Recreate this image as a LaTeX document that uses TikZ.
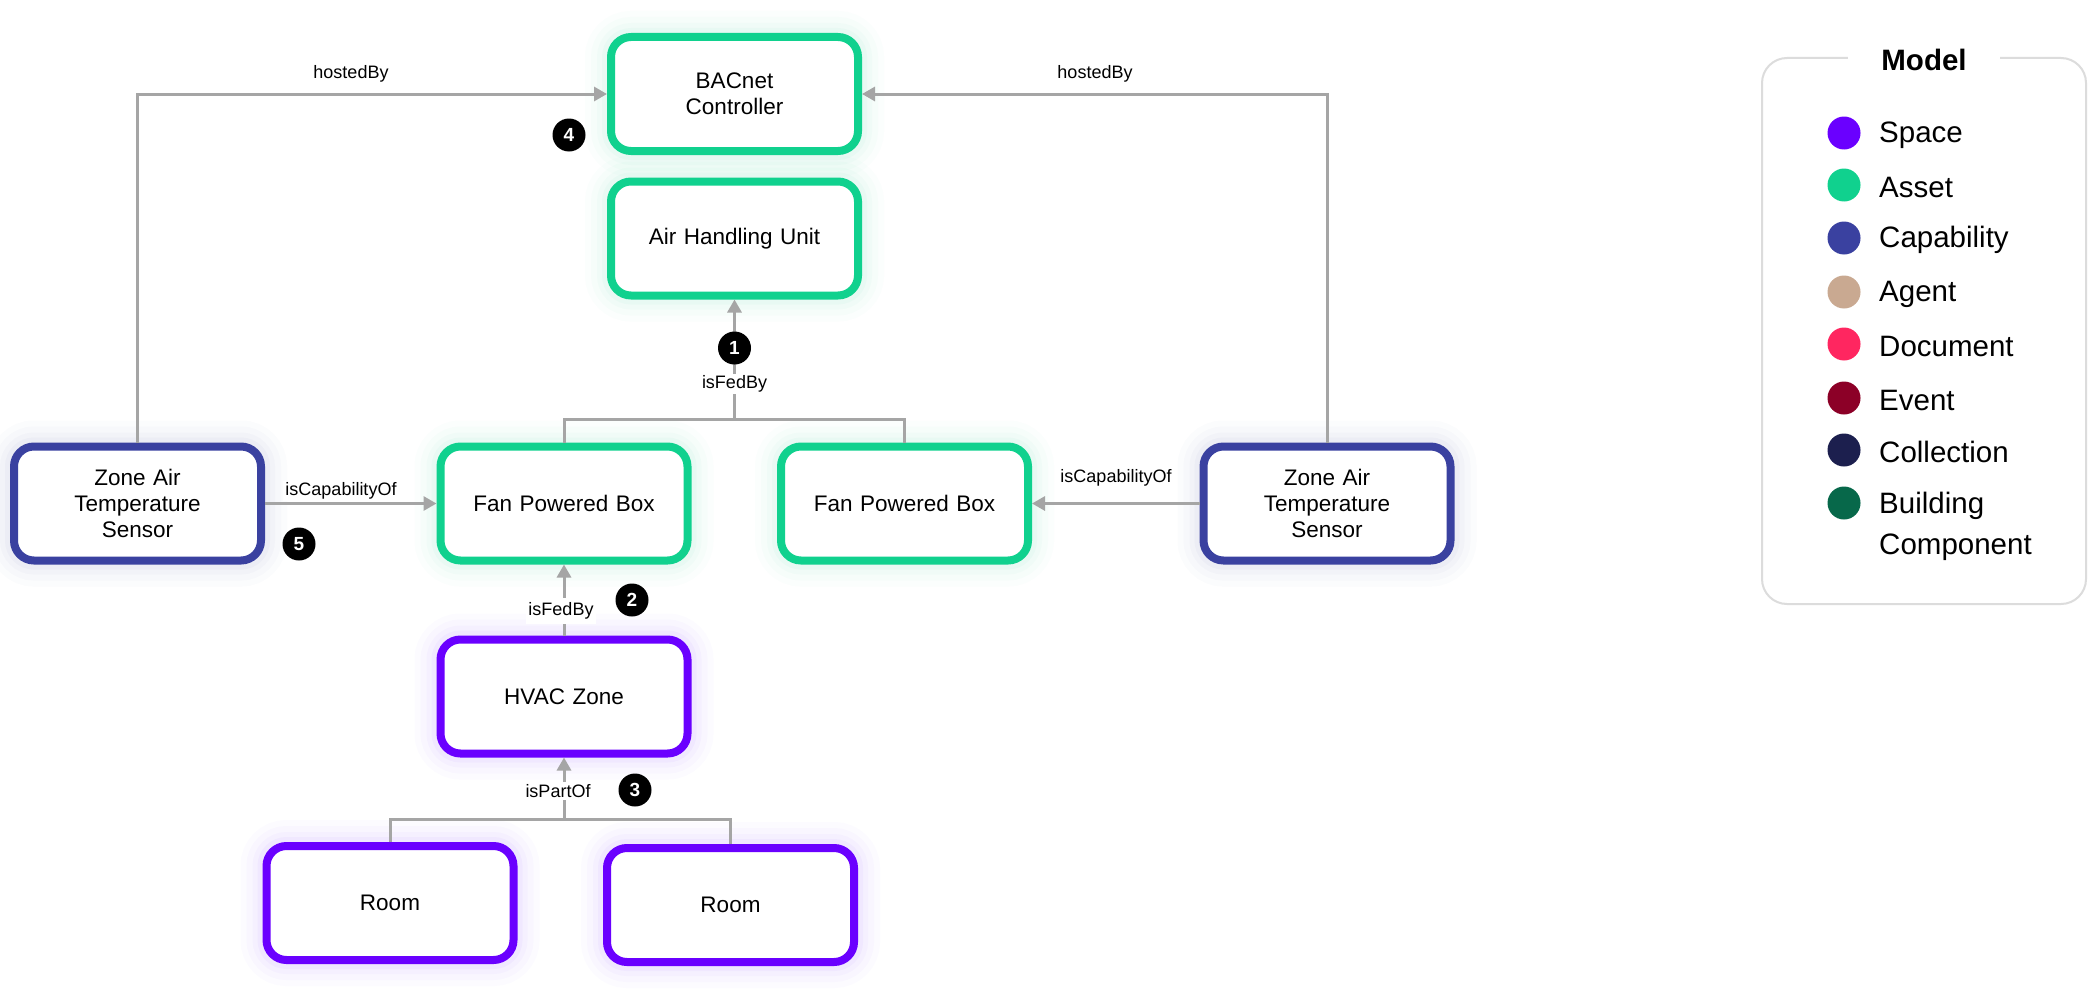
\documentclass[tikz,border=0pt]{standalone}
\usepackage{fontspec}
\setmainfont{Liberation Sans}
\usetikzlibrary{arrows.meta}

% entity colours
\definecolor{space}{HTML}{6A00FF}
\definecolor{asset}{HTML}{10D18E}
\definecolor{capability}{HTML}{3A41A0}
\definecolor{agent}{HTML}{C9A991}
\definecolor{document}{HTML}{FF2660}
\definecolor{event}{HTML}{8C0027}
\definecolor{collection}{HTML}{1C1F4E}
\definecolor{buildingcomp}{HTML}{07684A}
\definecolor{wiregray}{HTML}{A5A5A5}
\definecolor{framegray}{HTML}{DCDCDC}

\newcommand\nodetextfont{\fontsize{22.5}{26}\selectfont}
\newcommand\linktextfont{\fontsize{18}{20}\selectfont}
\newcommand\badgetextfont{\fontsize{19}{20}\selectfont\bfseries}
\newcommand\legendtextfont{\fontsize{29.5}{41}\selectfont}

\tikzset{
  halo/.style={
    preaction={draw=#1, line width=52pt, opacity=0.015},
    preaction={draw=#1, line width=40pt, opacity=0.02},
    preaction={draw=#1, line width=28pt, opacity=0.025},
    preaction={draw=#1, line width=18pt, opacity=0.03}},
  box/.style={draw=#1, line width=8pt, rounded corners=20pt, fill=white,
    minimum width=247pt, minimum height=114pt, text width=230pt,
    align=center, font=\nodetextfont, halo=#1},
  wire/.style={draw=wiregray, line width=3pt},
  link/.style={wire, -{Triangle[length=13pt,width=14pt]}},
  lbl/.style={font=\linktextfont, fill=white, inner sep=2pt},
  badge/.style={circle, fill=black, minimum size=33pt, inner sep=0pt,
    text=white, font=\badgetextfont},
  dot/.style={circle, fill=#1, minimum size=33pt, inner sep=0pt},
  legitem/.style={anchor=west, font=\legendtextfont, align=left, inner sep=0pt},
}

\begin{document}
\begin{tikzpicture}[x=1pt, y=-1pt]
\useasboundingbox[fill=white] (0,0) rectangle (2100,990);

% ---- entities ----
\node[box=asset] (bac) at (734.5,94) {BACnet\\Controller};
\node[box=asset] (ahu) at (734.5,238.5) {Air Handling Unit};
\node[box=asset] (fpbL) at (564,503.5) {Fan Powered Box};
\node[box=asset] (fpbR) at (904.5,503.5) {Fan Powered Box};
\node[box=capability] (senL) at (137.5,503.5) {Zone Air\\Temperature\\Sensor};
\node[box=capability] (senR) at (1327,503.5) {Zone Air\\Temperature\\Sensor};
\node[box=space] (hvac) at (564,696.5) {HVAC Zone};
\node[box=space] (roomL) at (390,903) {Room};
\node[box=space] (roomR) at (730.5,905) {Room};

% ---- hostedBy ----
\draw[link] (senL.north) |- (bac.west);
\draw[link] (senR.north) |- (bac.east);
\node[lbl] (hbL) at (351,74) {hostedBy};
\node[lbl] (hbR) at (1095,74) {hostedBy};
\node[badge] (b4) at (569,135) {4};

% ---- fan powered boxes fed by the AHU ----
\coordinate (j1) at (734.5,419);
\draw[wire] (fpbL.north) |- (j1) -| (fpbR.north);
\draw[link] (j1) -- (ahu.south);
\node[lbl] (fed1) at (734.5,384) {isFedBy};
\node[badge] (b1) at (734.5,348) {1};

% ---- sensors as capabilities ----
\draw[link] (senL.east) -- (fpbL.west);
\node[lbl] (capL) at (341,491) {isCapabilityOf};
\node[badge] (b5) at (299,544) {5};
\draw[link] (senR.west) -- (fpbR.east);
\node[lbl] (capR) at (1116,478) {isCapabilityOf};

% ---- zone fed by the fan powered box ----
\draw[link] (hvac.north) -- (fpbL.south);
\node[lbl, inner ysep=5pt] (fed2) at (561,611) {isFedBy};
\node[badge] (b2) at (632,600) {2};

% ---- rooms part of the zone ----
\coordinate (j3) at (564,819.5);
\draw[wire] (roomL.north) |- (j3) -| (roomR.north);
\draw[link] (j3) -- (hvac.south);
\node[lbl] (part) at (558,791) {isPartOf};
\node[badge] (b3) at (635,790) {3};

% ---- legend ----
\draw[framegray, line width=2pt, rounded corners=25pt] (1762,58) rectangle (2086,604);
\node[fill=white, inner xsep=33pt, inner ysep=4pt, font=\legendtextfont\bfseries] (legtitle) at (1924,60) {Model};
\foreach \c/\t/\y [count=\i] in {space/Space/133, asset/Asset/185, capability/Capability/238,
    agent/Agent/292, document/Document/344, event/Event/398, collection/Collection/450} {
  \node[dot=\c] (ld\i) at (1844,\y) {};
  \node[legitem] (lt\i) at (1879,\y+2) {\t};
}
\node[dot=buildingcomp] (ld8) at (1844,503) {};
\node[legitem, anchor=north west] (lt8) at (1879,492) {Building\\Component};
\end{tikzpicture}
\end{document}
